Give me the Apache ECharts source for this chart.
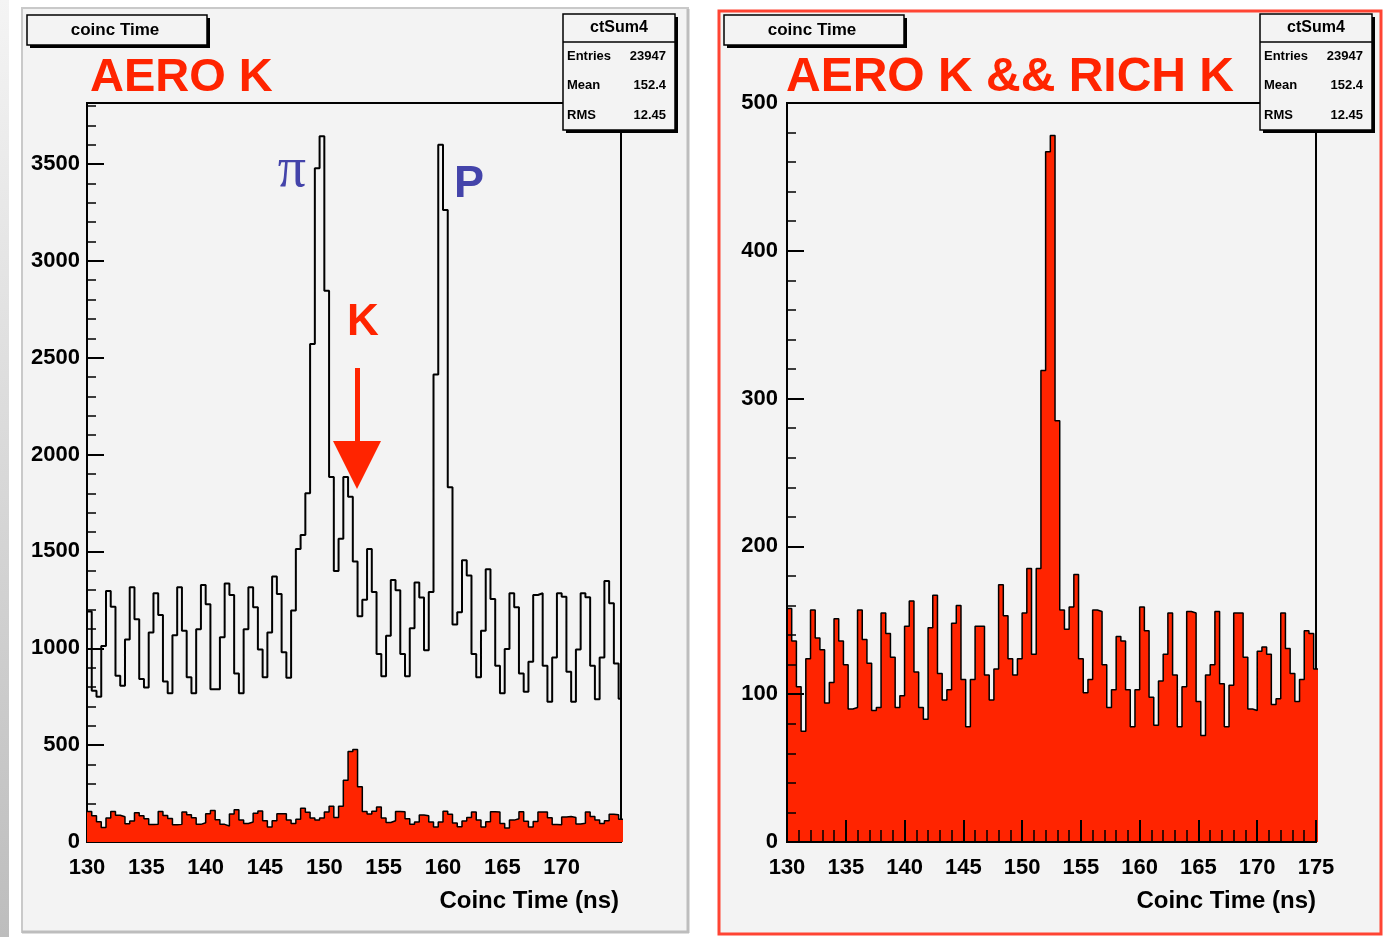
<!DOCTYPE html>
<html>
<head>
<meta charset="utf-8">
<script src="https://cdn.jsdelivr.net/npm/echarts@6/dist/echarts.min.js"></script>
<style>
html,body{margin:0;padding:0;background:#ffffff;}
#c{width:1383px;height:937px;}
</style>
</head>
<body>
<div id="c"></div>
<script>
// ---- data ----
const binStart = 130;      // ns, low edge of first bin
const binWidth = 0.4;      // ns
const xTicksLeft = [130, 135, 140, 145, 150, 155, 160, 165, 170];
const xTicksRight = [130, 135, 140, 145, 150, 155, 160, 165, 170, 175];
const yTicksLeft = [0, 500, 1000, 1500, 2000, 2500, 3000, 3500];
const yTicksRight = [0, 100, 200, 300, 400, 500];

// AERO K (open black histogram, left panel)
const aeroK = [
  1190, 781, 750, 1012, 1296, 1215, 858, 807, 1045, 1315,
  1150, 841, 797, 1081, 1284, 1172, 828, 768, 1067, 1315,
  1091, 850, 768, 1098, 1327, 1227, 788, 788, 1057, 1335,
  1275, 870, 768, 1098, 1315, 1212, 994, 850, 1081, 1370,
  1280, 980, 848, 1195, 1513, 1585, 1801, 2571, 3478, 3643,
  2846, 1884, 1399, 1565, 1884, 1782, 1448, 1165, 1250, 1513,
  1290, 970, 856, 1065, 1352, 1300, 970, 856, 1104, 1340,
  1262, 990, 1290, 2414, 3600, 3262, 1831, 1123, 1186, 1454,
  1376, 971, 850, 1091, 1408, 1254, 910, 768, 996, 1284,
  1212, 870, 776, 931, 1275, 1284, 910, 724, 953, 1284,
  1266, 879, 724, 994, 1284, 1263, 910, 737, 953, 1347,
  1232, 922, 740
];

// AERO K && RICH K (red filled histogram, both panels)
const aeroRichK = [
  158, 136, 105, 75, 124, 157, 138, 130, 94, 108,
  151, 136, 120, 90, 91, 157, 137, 121, 89, 91,
  155, 141, 125, 91, 99, 146, 163, 115, 91, 83,
  145, 167, 114, 96, 103, 148, 160, 110, 78, 110,
  146, 146, 113, 96, 117, 174, 153, 124, 113, 124,
  155, 185, 127, 185, 319, 467, 478, 285, 157, 144,
  159, 181, 124, 101, 110, 157, 156, 120, 91, 103,
  139, 136, 103, 78, 103, 159, 143, 98, 79, 109,
  127, 155, 113, 78, 105, 156, 155, 95, 72, 113,
  120, 156, 107, 78, 106, 155, 155, 125, 90, 89,
  129, 132, 127, 93, 97, 155, 131, 114, 95, 110,
  143, 141, 117
];

const statNames = ['Entries', 'Mean', 'RMS'];
const statValues = ['23947', '152.4', '12.45'];
const histName = 'ctSum4';
const histTitle = 'coinc Time';
const xTitle = 'Coinc Time (ns)';
const panelLabels = ['AERO K', 'AERO K && RICH K'];

// ---- helpers ----
const FONT = '"Liberation Sans", Arial, Helvetica, sans-serif';
const RED = '#ff2400';
const BLUE = '#4444aa';
const BG = '#f3f3f3';

function stepData(vals) {
  const d = vals.map((v, i) => [binStart + i * binWidth, v]);
  d.push([binStart + vals.length * binWidth, vals[vals.length - 1]]);
  return d;
}

function xAxisCfg(gridIndex, ticks, z, majLen, minLen) {
  return {
    type: 'value', gridIndex: gridIndex, min: 130, max: 175, interval: 5, z: z,
    axisLine: { show: true, onZero: false, lineStyle: { color: '#000', width: 2 } },
    axisTick: { show: true, inside: true, length: majLen, lineStyle: { color: '#000', width: 2 } },
    minorTick: { show: true, splitNumber: 5, length: minLen, lineStyle: { color: '#000', width: 1.5 } },
    splitLine: { show: false },
    axisLabel: {
      show: true, margin: 15, color: '#000', fontSize: 22, fontWeight: 'bold', fontFamily: FONT,
      formatter: v => (ticks.indexOf(v) >= 0 ? String(v) : '')
    }
  };
}

function yAxisCfg(gridIndex, ticks, max, interval, z, margin) {
  return {
    type: 'value', gridIndex: gridIndex, min: 0, max: max, interval: interval, z: z,
    axisLine: { show: true, lineStyle: { color: '#000', width: 2 } },
    axisTick: { show: true, inside: true, length: 17, lineStyle: { color: '#000', width: 2 } },
    minorTick: { show: true, splitNumber: 5, length: 9, lineStyle: { color: '#000', width: 1.5 } },
    splitLine: { show: false },
    axisLabel: {
      show: true, margin: margin, color: '#000', fontSize: 22, fontWeight: 'bold', fontFamily: FONT,
      formatter: v => (ticks.indexOf(v) >= 0 ? String(v) : '')
    }
  };
}

function shadowBox(x, y, w, h) {
  return [
    { type: 'rect', z: 100, shape: { x: x + 3, y: y + 3, width: w, height: h }, style: { fill: '#000' } },
    { type: 'rect', z: 101, shape: { x: x, y: y, width: w, height: h }, style: { fill: BG, stroke: '#000', lineWidth: 1.5 } }
  ];
}

function txt(text, x, y, font, fill, align, valign, z) {
  return { type: 'text', z: z || 102, style: { text: text, x: x, y: y, font: font, fill: fill, align: align || 'left', verticalAlign: valign || 'middle' } };
}

function titleBox(x, y) {
  return shadowBox(x, y, 180, 30).concat([
    txt(histTitle, x + 88, y + 15, 'bold 17px ' + FONT, '#000', 'center')
  ]);
}

function statsBox(x, y) {
  const w = 112, h = 116;
  const els = shadowBox(x, y, w, h);
  els.push({ type: 'line', z: 102, shape: { x1: x, y1: y + 28, x2: x + w, y2: y + 28 }, style: { stroke: '#000', lineWidth: 1.5 } });
  els.push(txt(histName, x + w / 2, y + 14, 'bold 16px ' + FONT, '#000', 'center'));
  statNames.forEach((n, i) => {
    const yy = y + 42 + i * 29.5;
    els.push(txt(n, x + 4, yy, 'bold 13px ' + FONT, '#000', 'left'));
    els.push(txt(statValues[i], x + w - 9, yy, 'bold 13px ' + FONT, '#000', 'right'));
  });
  return els;
}

const graphics = [
  // page strip on the far left
  { type: 'rect', z: -20, shape: { x: 0, y: 0, width: 9, height: 937 },
    style: { fill: new echarts.graphic.LinearGradient(0, 0, 0, 1, [{ offset: 0, color: '#f4f4f4' }, { offset: 1, color: '#bdbdbd' }]) } },
  // left panel
  { type: 'rect', z: -20, shape: { x: 22, y: 8, width: 666, height: 924 }, style: { fill: BG, stroke: '#c9c9c9', lineWidth: 2 } },
  { type: 'line', z: -19, shape: { x1: 688, y1: 9, x2: 688, y2: 933 }, style: { stroke: '#bdbdbd', lineWidth: 3 } },
  { type: 'line', z: -19, shape: { x1: 22, y1: 932, x2: 689, y2: 932 }, style: { stroke: '#bdbdbd', lineWidth: 3 } },
  // right panel (highlighted)
  { type: 'rect', z: -20, shape: { x: 719, y: 11, width: 662, height: 923 }, style: { fill: BG, stroke: '#ff4433', lineWidth: 3 } }
]
  .concat(titleBox(27, 15))
  .concat(titleBox(724, 15))
  .concat(statsBox(563, 14))
  .concat(statsBox(1260, 14))
  .concat([
    txt(panelLabels[0], 90, 78, 'bold 47px ' + FONT, RED, 'left'),
    txt(panelLabels[1], 786, 78, 'bold 48px ' + FONT, RED, 'left'),
    txt(xTitle, 619, 901, 'bold 24px ' + FONT, '#000', 'right'),
    txt(xTitle, 1316, 901, 'bold 24px ' + FONT, '#000', 'right'),
    // particle annotations
    txt('\u03C0', 292, 171, '56px "Liberation Serif", "DejaVu Serif", serif', BLUE, 'center'),
    txt('P', 454, 185, 'bold 45px ' + FONT, BLUE, 'left'),
    txt('K', 347, 323, 'bold 44px ' + FONT, RED, 'left'),
    { type: 'rect', z: 102, shape: { x: 355, y: 368, width: 5, height: 76 }, style: { fill: RED } },
    { type: 'polygon', z: 102, shape: { points: [[333, 441], [381, 441], [357, 489]] }, style: { fill: RED } }
  ]);

const chart = echarts.init(document.getElementById('c'), null, { renderer: 'canvas' });
chart.setOption({
  animation: false,
  backgroundColor: '#ffffff',
  grid: [
    { left: 87, top: 103, width: 534, height: 739, show: true, borderColor: '#000', borderWidth: 2, backgroundColor: 'transparent' },
    { left: 787, top: 103, width: 529, height: 739, show: true, borderColor: '#000', borderWidth: 2, backgroundColor: 'transparent' }
  ],
  xAxis: [
    xAxisCfg(0, xTicksLeft, 0, 17, 9),
    xAxisCfg(1, xTicksRight, 5, 22, 12)
  ],
  yAxis: [
    yAxisCfg(0, yTicksLeft, 3815, 500, 0, 7),
    yAxisCfg(1, yTicksRight, 500, 100, 5, 9)
  ],
  series: [
    { type: 'line', name: 'AERO K', xAxisIndex: 0, yAxisIndex: 0, data: stepData(aeroK), step: 'end',
      symbol: 'none', lineStyle: { color: '#000', width: 2 }, z: 2 },
    { type: 'line', name: 'AERO K && RICH K', xAxisIndex: 0, yAxisIndex: 0, data: stepData(aeroRichK), step: 'end',
      symbol: 'none', lineStyle: { color: '#000', width: 1.5 }, areaStyle: { color: RED, opacity: 1 }, z: 3 },
    { type: 'line', name: 'AERO K && RICH K (right)', xAxisIndex: 1, yAxisIndex: 1, data: stepData(aeroRichK), step: 'end',
      symbol: 'none', lineStyle: { color: '#000', width: 1.5 }, areaStyle: { color: RED, opacity: 1 }, z: 3 }
  ],
  graphic: graphics
});
</script>
</body>
</html>
